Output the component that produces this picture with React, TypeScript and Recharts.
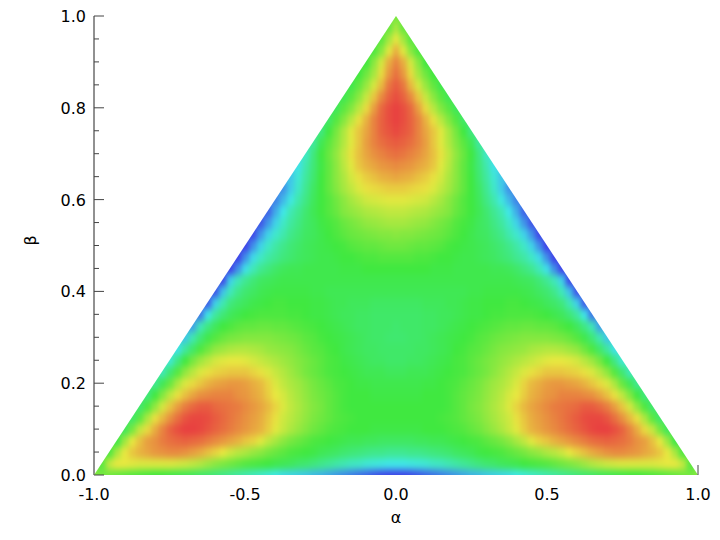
import { FC } from "react";
import { ScatterChart, Scatter, XAxis, YAxis } from "recharts";

const xTicks = [-1, -0.5, 0, 0.5, 1];
const yTicks = [
  0, 0.05, 0.1, 0.15, 0.2, 0.25, 0.3, 0.35, 0.4, 0.45, 0.5, 0.55, 0.6, 0.65,
  0.7, 0.75, 0.8, 0.85, 0.9, 0.95, 1,
];
const yLabelled = [0, 0.2, 0.4, 0.6, 0.8, 1];

const STEP = 0.025;

// intensity, 0 blue .. 100 red
// one row per beta (bottom to top, 0.025 apart), each row starts at alpha = 0
// and steps 0.025 towards the right edge, the left side mirrors it
const intensityRows = [
  [0, 0, 1, 3, 5, 7, 9, 11, 13, 15, 17, 18, 20, 21, 22, 23, 25, 27, 29, 31, 33, 35, 37, 39, 41, 43, 44, 46, 47, 48, 49, 50, 50, 51, 52, 53, 54, 55, 57, 58, 60],
  [25, 25, 26, 27, 28, 30, 31, 33, 35, 37, 39, 41, 43, 44, 46, 47, 48, 50, 51, 52, 53, 55, 57, 59, 61, 64, 67, 69, 71, 72, 73, 73, 73, 73, 73, 74, 75, 75, 70, 54],
  [38, 38, 39, 39, 40, 41, 42, 43, 45, 46, 47, 49, 50, 51, 52, 54, 56, 58, 61, 63, 66, 68, 71, 75, 78, 81, 84, 86, 88, 89, 89, 88, 87, 85, 83, 80, 75, 66, 52],
  [45, 45, 45, 46, 46, 47, 47, 48, 49, 50, 51, 52, 54, 56, 58, 61, 65, 69, 74, 78, 80, 83, 85, 87, 89, 91, 93, 94, 95, 94, 93, 91, 88, 86, 81, 75, 64, 49],
  [49, 49, 49, 49, 50, 50, 50, 51, 52, 53, 55, 57, 60, 63, 66, 70, 74, 79, 83, 85, 87, 89, 91, 93, 95, 97, 99, 100, 100, 98, 95, 90, 84, 77, 70, 58, 46],
  [50, 50, 50, 50, 50, 50, 51, 52, 53, 55, 57, 59, 62, 65, 68, 71, 76, 80, 84, 86, 88, 90, 92, 94, 96, 98, 99, 99, 97, 93, 88, 82, 76, 66, 54, 44],
  [50, 50, 50, 50, 50, 50, 50, 51, 53, 55, 58, 60, 63, 66, 69, 73, 78, 82, 85, 87, 89, 91, 92, 93, 94, 96, 96, 94, 91, 86, 80, 72, 62, 52, 43],
  [49, 49, 49, 49, 50, 50, 50, 51, 53, 55, 57, 59, 62, 65, 68, 72, 75, 79, 83, 85, 87, 88, 90, 90, 90, 89, 88, 85, 81, 76, 69, 60, 50, 41],
  [48, 48, 48, 48, 49, 49, 50, 51, 52, 54, 56, 58, 61, 64, 66, 69, 73, 78, 82, 84, 86, 87, 87, 86, 85, 83, 80, 77, 73, 66, 56, 47, 38],
  [46, 46, 47, 47, 47, 48, 49, 50, 51, 52, 54, 56, 58, 61, 64, 67, 70, 73, 76, 78, 80, 80, 80, 79, 78, 76, 73, 68, 62, 53, 43, 32],
  [44, 44, 45, 45, 46, 47, 48, 49, 51, 52, 54, 56, 58, 60, 62, 64, 66, 68, 70, 72, 74, 75, 75, 74, 72, 68, 64, 58, 50, 40, 28],
  [44, 44, 44, 45, 45, 46, 47, 48, 50, 51, 53, 54, 56, 58, 60, 61, 62, 63, 65, 66, 67, 67, 66, 64, 62, 57, 52, 44, 36, 24],
  [43, 43, 44, 44, 45, 46, 47, 48, 49, 50, 51, 53, 54, 56, 57, 58, 59, 60, 60, 60, 60, 59, 58, 56, 53, 48, 42, 33, 20],
  [43, 44, 44, 44, 45, 45, 46, 47, 48, 49, 50, 51, 52, 53, 54, 55, 55, 56, 56, 55, 55, 54, 52, 50, 46, 40, 32, 14],
  [44, 44, 44, 44, 45, 45, 46, 46, 47, 48, 49, 49, 50, 51, 51, 52, 52, 52, 52, 51, 50, 48, 46, 42, 36, 25, 8],
  [45, 45, 45, 45, 46, 46, 46, 47, 47, 48, 49, 49, 50, 50, 50, 51, 51, 50, 49, 48, 46, 44, 41, 33, 22, 4],
  [47, 47, 47, 47, 47, 47, 47, 47, 47, 47, 48, 48, 49, 49, 49, 49, 49, 48, 47, 45, 43, 39, 32, 20, 3],
  [48, 48, 48, 48, 48, 48, 48, 48, 48, 48, 48, 48, 48, 48, 48, 48, 47, 46, 45, 42, 38, 32, 22, 1],
  [50, 50, 50, 50, 50, 49, 49, 49, 48, 48, 48, 48, 48, 47, 47, 46, 44, 41, 38, 32, 24, 12, 0],
  [53, 53, 53, 52, 52, 51, 50, 50, 49, 48, 48, 47, 46, 45, 43, 41, 38, 35, 30, 23, 12, 0],
  [57, 57, 56, 55, 55, 54, 53, 51, 50, 49, 48, 47, 46, 44, 42, 39, 35, 30, 22, 12, 0],
  [61, 60, 60, 59, 58, 57, 56, 54, 52, 50, 48, 46, 45, 42, 39, 34, 29, 22, 13, 1],
  [65, 65, 64, 63, 62, 60, 58, 56, 53, 51, 49, 46, 44, 40, 36, 30, 22, 13, 3],
  [69, 69, 68, 67, 66, 64, 62, 60, 56, 53, 50, 47, 43, 38, 33, 25, 16, 5],
  [74, 74, 73, 72, 71, 68, 65, 61, 57, 53, 50, 46, 40, 34, 26, 18, 10],
  [79, 79, 78, 77, 76, 73, 69, 65, 60, 55, 50, 45, 38, 30, 21, 12],
  [85, 84, 83, 81, 79, 76, 72, 66, 61, 55, 50, 43, 36, 28, 20],
  [89, 88, 87, 85, 83, 80, 74, 68, 61, 55, 49, 42, 34, 24],
  [93, 92, 90, 88, 85, 81, 76, 69, 62, 56, 50, 41, 30],
  [96, 95, 93, 90, 86, 80, 74, 67, 60, 54, 47, 36],
  [99, 97, 95, 90, 85, 80, 74, 66, 58, 50, 40],
  [100, 98, 95, 90, 83, 76, 68, 60, 53, 44],
  [100, 98, 94, 86, 77, 68, 60, 54, 46],
  [98, 95, 89, 80, 70, 61, 54, 47],
  [96, 92, 82, 72, 63, 55, 48],
  [93, 87, 77, 65, 57, 50],
  [90, 84, 72, 61, 50],
  [84, 74, 61, 52],
  [75, 65, 54],
  [66, 56],
  [58],
];

const colorStops = [
  [64, 64, 232],
  [64, 232, 232],
  [64, 232, 64],
  [232, 232, 64],
  [232, 64, 64],
];

const cells = intensityRows.flatMap((row, r) =>
  row.flatMap((z, i) => {
    const beta = Number((r * STEP).toFixed(3));
    const alpha = Number((i * STEP).toFixed(3));
    return i === 0
      ? [{ alpha, beta, z }]
      : [
          { alpha, beta, z },
          { alpha: -alpha, beta, z },
        ];
  })
);

const WIDTH = 720;
const HEIGHT = 540;
const LEFT = 94;
const TOP = 16;
const PLOT_W = 604;
const PLOT_H = 459;
const FONT = "DejaVu Sans";

const colorOf = (z: number) => {
  const t = (Math.min(100, Math.max(0, z)) / 100) * 4;
  const k = Math.min(3, Math.floor(t));
  const f = t - k;
  const c = colorStops[k].map((v, j) =>
    Math.round(v + (colorStops[k + 1][j] - v) * f)
  );
  return `rgb(${c[0]},${c[1]},${c[2]})`;
};

const Cell: FC<any> = ({ cx, cy, payload }) => {
  const w = (PLOT_W / 2) * STEP + 1;
  const h = PLOT_H * STEP + 1;
  return (
    <rect
      x={cx - w / 2}
      y={cy - h / 2}
      width={w}
      height={h}
      fill={colorOf(payload.z)}
    />
  );
};

const YTick: FC<any> = ({ x, y, payload }) => {
  const major = yLabelled.includes(payload.value);
  return (
    <g>
      <line x1={x} x2={x + (major ? 10 : 5)} y1={y} y2={y} stroke="#444" />
      {major && (
        <text x={x - 8} y={y + 6} textAnchor="end" fontSize={16} fontFamily={FONT} fill="#000">
          {payload.value.toFixed(1)}
        </text>
      )}
    </g>
  );
};

// only the tick at the right end shows, the others sit under the surface
const XTick: FC<any> = ({ x, y, payload }) => (
  <g>
    {payload.value === 1 && (
      <line x1={x} x2={x} y1={y} y2={y - 10} stroke="#444" />
    )}
    <text x={x} y={y + 25} textAnchor="middle" fontSize={16} fontFamily={FONT} fill="#000">
      {payload.value.toFixed(1)}
    </text>
  </g>
);

export default function App() {
  const triangle = `${LEFT},${TOP + PLOT_H} ${LEFT + PLOT_W / 2},${TOP} ${LEFT + PLOT_W},${TOP + PLOT_H}`;
  return (
    <div style={{ position: "absolute", left: 0, top: 0 }}>
      <style>{`.recharts-scatter { filter: url(#smooth); clip-path: url(#tri); }`}</style>
      <ScatterChart
        width={WIDTH}
        height={HEIGHT}
        margin={{ top: TOP, right: WIDTH - LEFT - PLOT_W, bottom: 0, left: 0 }}
      >
        <defs>
          <filter
            id="smooth"
            filterUnits="userSpaceOnUse"
            x={0}
            y={0}
            width={WIDTH}
            height={HEIGHT}
            colorInterpolationFilters="sRGB"
          >
            <feGaussianBlur stdDeviation="2.5 3.5" />
            <feComponentTransfer>
              <feFuncA type="linear" slope={100} />
            </feComponentTransfer>
          </filter>
          <clipPath id="tri">
            <polygon points={triangle} />
          </clipPath>
        </defs>
        <XAxis
          type="number"
          dataKey="alpha"
          domain={[-1, 1]}
          ticks={xTicks}
          height={HEIGHT - TOP - PLOT_H}
          axisLine={false}
          tickLine={false}
          tickSize={0}
          tickMargin={0}
          tick={<XTick />}
          interval={0}
          label={{
            value: "α",
            position: "insideBottom",
            offset: 17,
            fontSize: 16,
            fontFamily: FONT,
            fill: "#000",
          }}
        />
        <YAxis
          type="number"
          dataKey="beta"
          domain={[0, 1]}
          ticks={yTicks}
          width={LEFT}
          axisLine={{ stroke: "#222" }}
          tickLine={false}
          tickSize={0}
          tickMargin={0}
          tick={<YTick />}
          interval={0}
          label={{
            value: "β",
            angle: -90,
            position: "insideLeft",
            offset: 30,
            fontSize: 16,
            fontFamily: FONT,
            fill: "#000",
          }}
        />
        <Scatter data={cells} shape={<Cell />} isAnimationActive={false} />
      </ScatterChart>
    </div>
  );
}
